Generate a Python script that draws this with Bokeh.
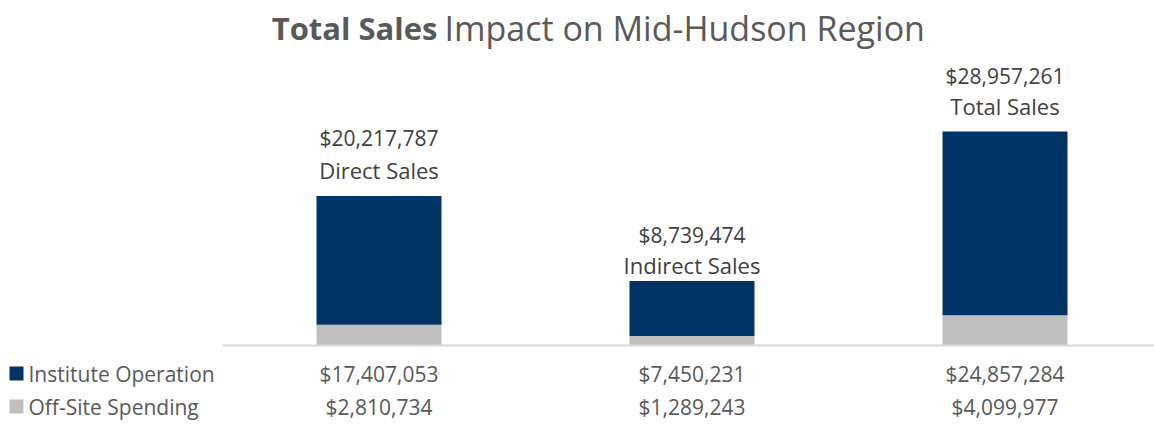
from bokeh.plotting import figure
from bokeh.models import Range1d, Label, ColumnDataSource
from bokeh.core.properties import value
from bokeh.embed import file_html
from bokeh.resources import INLINE

# ---- data ----
categories = ["Direct Sales", "Indirect Sales", "Total Sales"]
institute_operation = [17407053, 7450231, 24857284]
offsite_spending = [2810734, 1289243, 4099977]
totals = [20217787, 8739474, 28957261]
series_names = ["Institute Operation", "Off-Site Spending"]
series_colors = ["#003366", "#BFBFBF"]

def money(v):
    return "${:,}".format(v)

# ---- layout constants (pixels) ----
W, H = 1154, 424
PX_PER_CAT = 313.0
FIRST_CENTER = 378.5          # frame px of first category centre
BASELINE_FROM_TOP = 345.0     # frame px of y=0
PX_PER_DOLLAR = 214.0 / 28957261
LABEL_GAP_TOP = [58, 46, 56]  # px above bar top for value line
LABEL_GAP_BOT = [26, 16, 26]  # px above bar top for name line

x_start = -FIRST_CENTER / PX_PER_CAT
x_end = x_start + W / PX_PER_CAT
y_start = -(H - BASELINE_FROM_TOP) / PX_PER_DOLLAR
y_end = BASELINE_FROM_TOP / PX_PER_DOLLAR

def px_x(px):   # frame px from left -> data x
    return x_start + px / PX_PER_CAT

def px_dy(px):  # pixel distance -> data distance
    return px / PX_PER_DOLLAR

p = figure(width=W, height=H, output_backend="svg", toolbar_location=None,
           x_range=Range1d(x_start, x_end), y_range=Range1d(y_start, y_end),
           min_border=0, min_border_left=0, min_border_right=0,
           min_border_top=0, min_border_bottom=0)
p.axis.visible = False
p.grid.visible = False
p.outline_line_color = None
p.background_fill_color = "white"
p.border_fill_color = "white"

xs = list(range(len(categories)))
src = ColumnDataSource(dict(x=xs, off=offsite_spending, total=totals))

BAR_W = 125.0 / PX_PER_CAT
p.vbar(x="x", bottom=0, top="off", width=BAR_W, source=src,
       fill_color=series_colors[1], line_color=None)
p.vbar(x="x", bottom="off", top="total", width=BAR_W, source=src,
       fill_color=series_colors[0], line_color=None)

# axis baseline
p.segment(x0=[-0.5], x1=[x_end], y0=[0], y1=[0], line_color="#D9D9D9", line_width=2)

# data labels above bars
lbl_src1 = ColumnDataSource(dict(x=xs, y=[t + px_dy(g) for t, g in zip(totals, LABEL_GAP_TOP)],
                                 t=[money(v) for v in totals]))
lbl_src2 = ColumnDataSource(dict(x=xs, y=[t + px_dy(g) for t, g in zip(totals, LABEL_GAP_BOT)],
                                 t=categories))
p.text(x="x", y="y", text="t", source=lbl_src1, text_align="center", text_baseline="middle",
       text_font=value("Open Sans"), text_font_size="21px", text_color="#404040")
p.text(x="x", y="y", text="t", source=lbl_src2, text_align="center", text_baseline="middle",
       text_font=value("Open Sans"), text_font_size="22px", text_color="#404040")

# data table rows
row_y = [-px_dy(28), -px_dy(61)]
for vals, yy in ((institute_operation, row_y[0]), (offsite_spending, row_y[1])):
    p.text(x=xs, y=[yy] * len(xs), text=[money(v) for v in vals],
           text_align="center", text_baseline="middle",
           text_font=value("Open Sans"), text_font_size="21px", text_color="#595959")

# legend keys in table
p.scatter(x=[px_x(16)] * 2, y=row_y, marker="square", size=14,
          fill_color=series_colors, line_color=None)
p.text(x=[px_x(28)] * 2, y=row_y, text=series_names, text_align="left",
       text_baseline="middle", text_font=value("Open Sans"), text_font_size="21px",
       text_color="#595959")

# title (bold + regular)
p.add_layout(Label(x=437, y=H - 27, x_units="screen", y_units="screen",
                   text="Total Sales", text_align="right", text_baseline="middle",
                   text_font="Open Sans", text_font_style="bold", text_font_size="31px",
                   text_color="#595959"))
p.add_layout(Label(x=444, y=H - 27, x_units="screen", y_units="screen",
                   text="Impact on Mid-Hudson Region", text_align="left", text_baseline="middle",
                   text_font="Open Sans", text_font_size="34px", text_color="#595959"))

open("out.html", "w").write(file_html(p, INLINE))
